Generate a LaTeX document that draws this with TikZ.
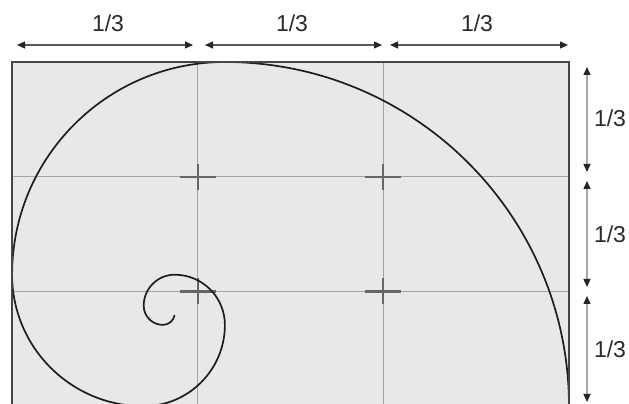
\documentclass[tikz,border=0pt]{standalone}
\usepackage{fontspec}
\setmainfont{Liberation Sans}
\usetikzlibrary{arrows.meta}
\definecolor{fillgray}{HTML}{E8E8E8}
\definecolor{bordergray}{HTML}{454545}
\definecolor{gridgray}{HTML}{A4A4A4}
\definecolor{crossgray}{HTML}{666666}
\definecolor{toparrowgray}{HTML}{5A5A5A}
\definecolor{sidearrowgray}{HTML}{A8A8A8}
\definecolor{spiralblack}{HTML}{1E1E1E}
\definecolor{textgray}{HTML}{2A2A2A}
\begin{document}
\begin{tikzpicture}[x=1pt,y=1pt,
  tip/.tip={Triangle[length=8pt,width=7pt,color=black!85]},
  toparrow/.style={draw=toparrowgray, line width=1.2pt, tip-tip},
  sidearrow/.style={draw=sidearrowgray, line width=1.4pt, tip-tip},
  gridline/.style={draw=gridgray, line width=1.3pt},
  crossline/.style={draw=crossgray, line width=2.2pt},
  spiralline/.style={draw=spiralblack, line width=1.7pt},
  borderline/.style={draw=bordergray, line width=2.2pt},
  lbl/.style={font=\fontsize{23}{26}\selectfont, text=textgray, inner sep=0pt}]
\useasboundingbox (0,0) rectangle (629,404);
% corners of the golden rectangle
\coordinate (BL) at (12,-2.2);
\coordinate (TR) at (569,342);
\begin{scope}
  \clip (0,0) rectangle (629,404);
  \fill[fillgray] (BL) rectangle (TR);
  % thirds grid
  \coordinate (v1b) at (197.7,-2.2); \coordinate (v1t) at (197.7,342);
  \coordinate (v2b) at (383.3,-2.2); \coordinate (v2t) at (383.3,342);
  \coordinate (h1l) at (12,227.3); \coordinate (h1r) at (569,227.3);
  \coordinate (h2l) at (12,112.5); \coordinate (h2r) at (569,112.5);
  \draw[gridline] (v1b) -- (v1t);
  \draw[gridline] (v2b) -- (v2t);
  \draw[gridline] (h1l) -- (h1r);
  \draw[gridline] (h2l) -- (h2r);
  % crosses at intersections
  \foreach \cx/\cy in {197.7/227.3, 383.3/227.3, 383.3/112.5, 197.7/112.5}{
    \draw[crossline] (\cx-18,\cy) -- (\cx+18,\cy);
    \draw[crossline] (\cx,\cy-13) -- (\cx,\cy+13);
  }
  % golden spiral
  \draw[spiralline] (569,-2.2)
    arc[start angle=0,end angle=90,radius=344.2]
    arc[start angle=90,end angle=180,radius=212.7]
    arc[start angle=180,end angle=270,radius=131.5]
    arc[start angle=270,end angle=360,radius=81.3]
    arc[start angle=0,end angle=90,radius=50.2]
    arc[start angle=90,end angle=180,radius=31.0]
    arc[start angle=180,end angle=270,radius=19.2]
    arc[start angle=270,end angle=350,radius=11.9];
  % border (bottom edge lies outside the picture)
  \draw[borderline] (BL) -- (12,342) -- (TR) -- (569,-2.2);
\end{scope}
% top dimension arrows
\coordinate (a1l) at (17,359);  \coordinate (a1r) at (193,359);
\coordinate (a2l) at (205,359); \coordinate (a2r) at (382,359);
\coordinate (a3l) at (390,359); \coordinate (a3r) at (568,359);
\draw[toparrow] (a1l) -- (a1r);
\draw[toparrow] (a2l) -- (a2r);
\draw[toparrow] (a3l) -- (a3r);
\node[lbl] (t1) at (108,380.5) {1/3};
\node[lbl] (t2) at (292,380.5) {1/3};
\node[lbl] (t3) at (477,380.5) {1/3};
% right dimension arrows
\coordinate (s1t) at (587,337); \coordinate (s1b) at (587,232);
\coordinate (s2t) at (587,223); \coordinate (s2b) at (587,117);
\coordinate (s3t) at (587,108); \coordinate (s3b) at (587,2);
\draw[sidearrow] (s1t) -- (s1b);
\draw[sidearrow] (s2t) -- (s2b);
\draw[sidearrow] (s3t) -- (s3b);
\node[lbl] (r1) at (610,285.5) {1/3};
\node[lbl] (r2) at (610,169.5) {1/3};
\node[lbl] (r3) at (610,54.5) {1/3};
\end{tikzpicture}
\end{document}
